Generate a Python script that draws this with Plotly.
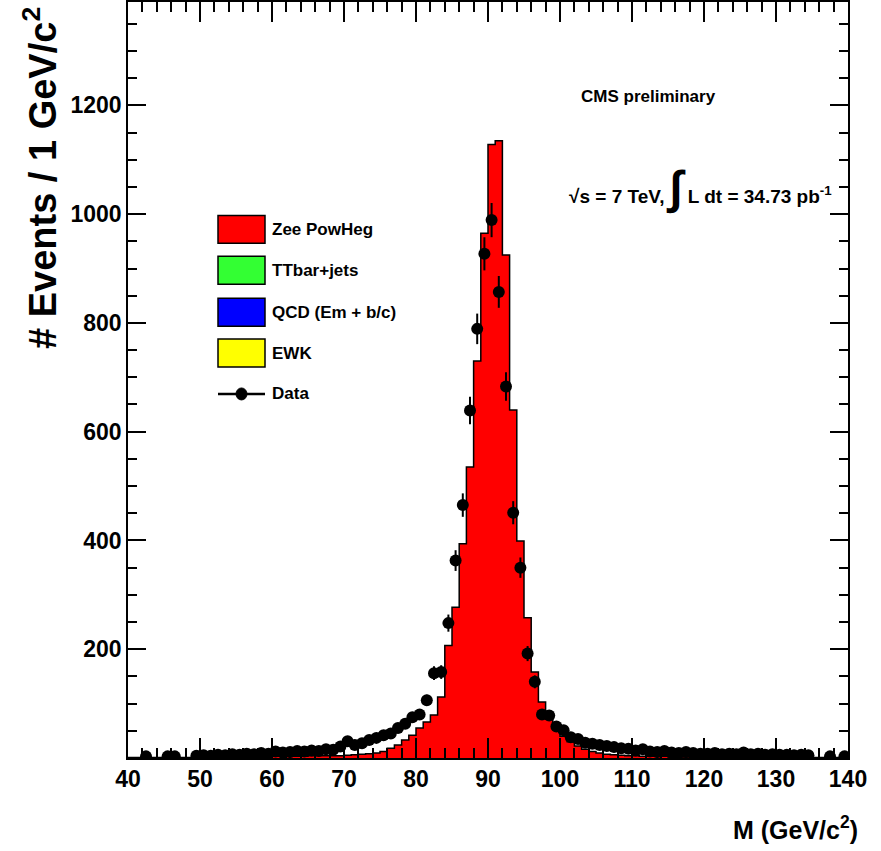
import plotly.graph_objects as go

# ---------------- data ----------------
# Zee PowHeg MC histogram, 1 GeV bins, lower edges 40..139
mc_edges = list(range(40, 141))
mc_zee = [
    1, 1, 1, 1, 1, 1, 1, 1, 1, 1,          # 40-49
    2, 2, 2, 2, 2, 2, 2, 2, 2, 2,          # 50-59
    3, 3, 3, 3, 3, 4, 4, 4, 4, 4,          # 60-69
    5, 6, 7, 8, 9, 12, 18, 24, 33, 42,     # 70-79
    55, 66, 79, 112, 207, 277, 394, 535, 730, 965,   # 80-89
    1128, 1135, 925, 640, 399, 258, 158, 103, 75, 55,  # 90-99
    40, 30, 22, 16, 12, 9, 7, 6, 5, 4,     # 100-109
    4, 3, 3, 3, 3, 2, 2, 2, 2, 2,          # 110-119
    2, 2, 2, 2, 1, 1, 1, 1, 1, 1,          # 120-129
    1, 1, 1, 1, 1, 1, 1, 1, 1, 1,          # 130-139
]

# Data, bin centres 40.5..139.5 (None = empty bin, not drawn)
data_x = [e + 0.5 for e in range(40, 140)]
data_y = [
    None, None, 3, None, None, 3, 3, None, None, 4,      # 40-49
    5, 4, 6, 5, 7, 6, 8, 7, 9, 8,                        # 50-59
    12, 10, 11, 13, 12, 14, 13, 16, 15, 21,              # 60-69
    31, 24, 27, 33, 37, 42, 45, 55, 63, 75,              # 70-79
    80, 106, 156, 158, 248, 363, 465, 639, 789, 927,     # 80-89
    989, 857, 683, 451, 350, 192, 140, 80, 78, 58,       # 90-99
    51, 38, 35, 28, 26, 24, 22, 20, 18, 17,              # 100-109
    14, 16, 12, 11, 13, 10, 9, 11, 9, 8,                 # 110-119
    8, 9, 7, 8, 7, 10, 7, 8, 6, 7,                       # 120-129
    6, 6, 5, 6, 5, None, None, 3, None, 3,               # 130-139
]

legend_labels = ["Zee PowHeg", "TTbar+jets", "QCD (Em + b/c)", "EWK", "Data"]
legend_colors = ["#FF0000", "#33FF33", "#0000FF", "#FFFF00", None]

y_tickvals = [200, 400, 600, 800, 1000, 1200]
y_ticktext = ["200", "400", "600", "800", "1000", "1200"]
x_tickvals = [40, 50, 60, 70, 80, 90, 100, 110, 120, 130, 140]
x_ticktext = ["40", "50", "60", "70", "80", "90", "100", "110", "120", "130", "140"]

FONT = "Liberation Sans, Arial, sans-serif"

# ---------------- figure ----------------
fig = go.Figure()

step_y = mc_zee + [mc_zee[-1]]
fig.add_trace(go.Scatter(
    x=mc_edges, y=step_y, mode="lines", line_shape="hv",
    line=dict(color="black", width=1.5),
    fill="tozeroy", fillcolor="#FF0000", showlegend=False, hoverinfo="skip",
))

err_y = [None if v is None else v ** 0.5 for v in data_y]
fig.add_trace(go.Scatter(
    x=data_x, y=data_y, mode="markers",
    marker=dict(color="black", size=12, symbol="circle"),
    error_y=dict(type="data", array=err_y, color="black", thickness=2, width=0),
    error_x=dict(type="constant", value=0.5, color="black", thickness=1.5, width=0),
    showlegend=False,
))

W, H = 881, 851
L, R, T, B = 128, 33, 0, 93
PW, PH = W - L - R, H - T - B


def px(xp):
    return (xp - L) / PW


def py(yp):
    return 1 - (yp - T) / PH


shapes = []
annotations = []

# legend (manual, ROOT style)
leg_y = [228, 269, 311, 352, 393]
for lab, col, yc in zip(legend_labels, legend_colors, leg_y):
    if col is not None:
        shapes.append(dict(type="rect", xref="paper", yref="paper",
                           x0=px(218), x1=px(265), y0=py(yc + 14), y1=py(yc - 14),
                           fillcolor=col, line=dict(color="black", width=1.5)))
    else:
        shapes.append(dict(type="line", xref="paper", yref="paper",
                           x0=px(218), x1=px(265), y0=py(yc), y1=py(yc),
                           line=dict(color="black", width=2.5)))
        shapes.append(dict(type="circle", xref="paper", yref="paper",
                           x0=px(236), x1=px(247), y0=py(yc + 6), y1=py(yc - 6),
                           fillcolor="black", line=dict(color="black", width=1)))
    annotations.append(dict(text="<b>%s</b>" % lab, xref="paper", yref="paper",
                            x=px(270), y=py(yc), xanchor="left", yanchor="middle",
                            showarrow=False, font=dict(family=FONT, size=17, color="black")))

annotations.append(dict(text="<b>CMS preliminary</b>", xref="paper", yref="paper",
                        x=px(579), y=py(95), xanchor="left", yanchor="middle", showarrow=False,
                        font=dict(family=FONT, size=17, color="black")))
annotations.append(dict(
    text="<b>√s = 7 TeV, <span style='font-size:46px'>∫</span> L dt = 34.73 pb<sup>-1</sup></b>",
    xref="paper", yref="paper", x=px(567), y=py(186), xanchor="left", yanchor="middle",
    showarrow=False, font=dict(family=FONT, size=19, color="black")))

# axis titles (ROOT style, at axis ends)
annotations.append(dict(text="<b>M (GeV/c<sup>2</sup>)</b>", xref="paper", yref="paper",
                        x=px(860), y=py(828), xanchor="right", yanchor="middle", showarrow=False,
                        font=dict(family=FONT, size=25, color="black")))
annotations.append(dict(text="<b># Events / 1 GeV/c<sup>2</sup></b>", xref="paper", yref="paper",
                        x=px(40), y=py(3), xanchor="center", yanchor="top", textangle=-90,
                        showarrow=False, font=dict(family=FONT, size=38, color="black")))

fig.update_layout(
    width=W, height=H,
    margin=dict(l=L, r=R, t=T, b=B),
    paper_bgcolor="white", plot_bgcolor="white",
    shapes=shapes, annotations=annotations,
    showlegend=False,
    font=dict(family=FONT, color="black"),
)

fig.update_xaxes(
    range=[40, 140], tickmode="array", tickvals=x_tickvals,
    ticktext=["<b>%s</b>" % t for t in x_ticktext],
    ticks="inside", ticklen=20, tickwidth=1.5, tickcolor="black",
    minor=dict(ticks="inside", ticklen=10, dtick=2, tick0=40, tickwidth=1.5, tickcolor="black"),
    showline=True, linecolor="black", linewidth=1.5, mirror="ticks",
    showgrid=False, zeroline=False,
    tickfont=dict(family=FONT, size=23, color="black"),
)
fig.update_yaxes(
    range=[0, 1390], tickmode="array", tickvals=y_tickvals,
    ticktext=["<b>%s</b>" % t for t in y_ticktext],
    ticks="inside", ticklen=18, tickwidth=1.5, tickcolor="black",
    minor=dict(ticks="inside", ticklen=9, dtick=50, tick0=0, tickwidth=1.5, tickcolor="black"),
    showline=True, linecolor="black", linewidth=1.5, mirror="ticks",
    showgrid=False, zeroline=False,
    tickfont=dict(family=FONT, size=23, color="black"),
)

fig.write_html("out.html")
